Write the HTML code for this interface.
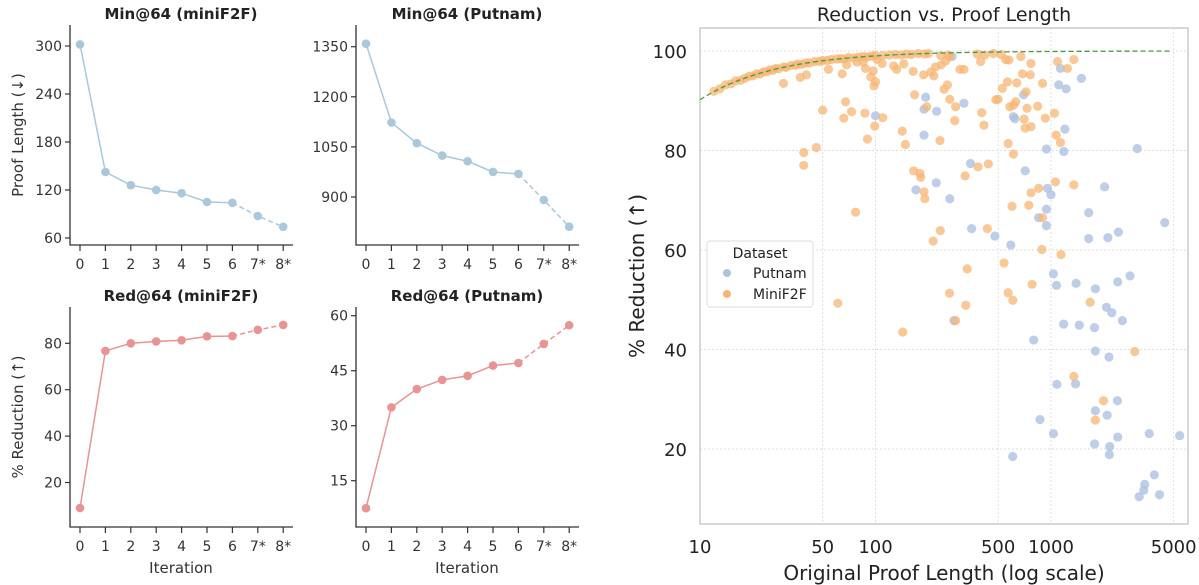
<!DOCTYPE html>
<html><head><meta charset="utf-8">
<style>
html,body{margin:0;padding:0;background:#fff;}
svg{display:block;font-family:"DejaVu Sans","Liberation Sans",sans-serif;}
</style></head>
<body>
<svg id="fig" width="1199" height="585" viewBox="0 0 1199 585" xmlns="http://www.w3.org/2000/svg"></svg>
<script>
// ---------- line panel data ----------
const iterLabels = ["0","1","2","3","4","5","6","7*","8*"];
const minMiniF2F = [302, 142.5, 126, 120, 116, 105, 104, 87.5, 74];
const minPutnam = [1359, 1123, 1061, 1024, 1007, 975, 969, 891, 811];
const redMiniF2F = [9, 76.7, 80, 80.8, 81.3, 83, 83.1, 85.8, 87.9];
const redPutnam = [7.5, 35, 40, 42.5, 43.6, 46.4, 47.1, 52.3, 57.4];
const ticksMinMiniF2F = [60, 120, 180, 240, 300];
const ticksMinPutnam = [900, 1050, 1200, 1350];
const ticksRedMiniF2F = [20, 40, 60, 80];
const ticksRedPutnam = [15, 30, 45, 60];

// ---------- scatter data ----------
const putnamLen = [273,193,189,223,189,319,100,611,623,698,1132,1106,1220,1490,1200,942,1183,3100,348,713,222,170,265,955,1000,2020,942,850,942,1640,353,479,590,1640,2110,2420,4450,
1032,1075,1390,1790,2400,2820,2070,2220,2550,1180,1450,1770,797,280,1790,2140,1080,1380,2390,1790,2090,866,1032,1770,2160,2150,2400,3630,5410,605,3880,3420,3380,3180,4150];
const putnamRed = [98.9,90.7,88.3,87.9,83.1,89.5,87,86.8,86.4,91.2,96.5,93.2,92.4,94.5,84.3,80.3,79.8,80.4,77.4,75.9,73.5,72.1,70.3,72.4,71.1,72.7,68.2,66.5,64.9,67.5,64.3,62.8,61,62.3,62.5,63.6,65.5,
55.2,52.9,53.3,52.2,53.6,54.8,48.5,47.4,45.8,45.1,44.9,44.4,41.9,45.8,39.7,38.5,33,33.1,29.7,27.7,26.8,25.9,23.1,21,20.5,18.9,22.4,23.1,22.7,18.5,14.8,12.9,11.7,10.4,10.8];
const miniLen = [12,13,14,15,16,17,18,19,20,21,22,23,24,25,26,27,28,30,31,33,35,36,38,40,42,45,48,50,53,56,60,63,66,70,75,80,85,90,95,100,110,120,130,140,150,160,175,190,200,235,260,380,420,470,520,
29.9,37.3,40.4,54,64.6,68.5,78.5,85,87.6,97,94,100,98,102,109,127,132,145,164,188,207,215,220,237,251,265,303,319,257,246,397,552,576,673,769,688,762,565,638,528,895,1090,1240,1350,
67.5,50,73,66,87,110,99,90,39,39,46,142,148,167,196,265,286,283,233,403,415,485,500,583,611,630,720,730,703,713,769,840,928,1046,1070,1132,570,611,
165,179,181,189,191,324,384,440,1060,1350,850,769,747,600,895,434,234,213,888,1140,540,333,77,
264,327,570,606,780,61,143,286,1670,3000,1350,1990,1790];
const miniRed = [91.9,92.4,93.2,93.4,94,94.1,94.5,94.9,95,95.4,95.4,95.8,95.8,96.2,96.1,96.5,96.4,96.8,96.7,97.1,97.1,97.4,97.3,97.6,97.6,97.9,97.9,98.1,98.1,98.3,98.4,98.5,98.4,98.7,98.6,98.8,98.9,98.8,99,99.1,99.1,99.2,99.3,99.2,99.4,99.3,99.5,99.4,99.5,99.1,99.2,99.4,99.2,99.5,99.3,
93.5,94.7,95.2,96.3,95.4,97.2,97.8,97.8,96.5,96,94.8,93.8,93,98.3,97.5,97,96.3,97.4,95.9,95.2,95.8,95,96.8,97.2,98,98.9,96.3,96.3,93.2,92.3,97.9,98.3,98.2,98.9,97.5,95.4,95.2,93.8,93.6,92.5,93.5,97.9,96.5,98.3,
89.8,88.1,87.8,86.5,87.5,86.6,84.9,82.3,79.6,77,80.6,83.9,81.2,91.2,88.8,90.3,88.8,86,82,87.6,85.1,90.2,90.3,88.8,89.1,89.8,91.8,88.5,86.3,84.5,84.8,88.9,86.5,87.5,83.1,81.6,81.4,79.3,
75.9,75.4,74.6,71.7,70.3,74.9,76.7,77.3,73.7,73.1,72.4,71.5,69,68.8,66.5,64.3,63.9,61.8,60.1,59.1,57.4,56.2,67.6,
51.3,48.9,51.4,49.9,53.1,49.3,43.5,45.8,49.5,39.6,34.6,29.7,25.8];
const scatterXTicks = [10, 50, 100, 500, 1000, 5000];
const scatterYTicks = [20, 40, 60, 80, 100];
const fitCoef = 98;

const NS = "http://www.w3.org/2000/svg";
const svg = document.getElementById('fig');
function mk(tag, attrs, parent, text){
  const e = document.createElementNS(NS, tag);
  for (const k in attrs) e.setAttribute(k, attrs[k]);
  if (text !== undefined) e.textContent = text;
  (parent || svg).appendChild(e);
  return e;
}

// ---------- line panels ----------
function linePanel(cfg){
  const g = mk('g', {});
  
  
  const L = cfg.left, T = 25 + cfg.top, B = 245 + cfg.top, R = cfg.left + 223;
  const x0 = cfg.left + 10, dx = 25.4;
  const xs = i => x0 + i * dx;
  const ys = v => cfg.yPix0 + (cfg.yVal0 - v) * cfg.k;
  // title
  const t = mk('text', {x: cfg.left + 111, y: cfg.top + 19, 'text-anchor': 'middle', 'font-size': 15, 'font-weight': 'bold', fill: '#222'}, g, cfg.title);
  
  
  // spines
  const sp = mk('path', {d: `M${L},${T} V${B} H${R}`, stroke: '#333', 'stroke-width': 1.3, fill: 'none'}, g);
  
  
  // y ticks
  cfg.yticks.forEach(v => {
    const y = ys(v);
    mk('line', {x1: L - 5, x2: L, y1: y, y2: y, stroke: '#333', 'stroke-width': 1.2}, g);
    const tl = mk('text', {x: L - 8, y: y + 5, 'text-anchor': 'end', 'font-size': 14, fill: '#333'}, g, String(v));
    
    
  });
  // x ticks
  iterLabels.forEach((lab, i) => {
    mk('line', {x1: xs(i), x2: xs(i), y1: B, y2: B + 6, stroke: '#333', 'stroke-width': 1.2}, g);
    const tl = mk('text', {x: xs(i), y: B + 24, 'text-anchor': 'middle', 'font-size': 14, fill: '#333'}, g, lab);
    
    
  });
  if (cfg.xlabel){
    const xl = mk('text', {x: cfg.left + 111, y: B + 46, 'text-anchor': 'middle', 'font-size': 15, fill: '#333'}, g, 'Iteration');
    
    
  }
  if (cfg.ylabel){
    const cy = (T + B) / 2;
    const yl = mk('text', {x: 23, y: cy, 'text-anchor': 'middle', 'font-size': 15, fill: '#333', transform: `rotate(-90 23 ${cy})`}, g, cfg.ylabel);
    
    
  }
  const d = cfg.data;
  let solid = '', dash = '';
  d.forEach((v, i) => { if (i <= 6) solid += (i ? 'L' : 'M') + xs(i) + ',' + ys(v); if (i >= 6) dash += (i === 6 ? 'M' : 'L') + xs(i) + ',' + ys(v); });
  const ls = mk('path', {d: solid, stroke: cfg.color, 'stroke-width': 1.5, fill: 'none'}, g);
  
  
  const ld = mk('path', {d: dash, stroke: cfg.color, 'stroke-width': 1.5, fill: 'none', 'stroke-dasharray': '5,3'}, g);
  
  
  d.forEach((v, i) => {
    const c = mk('circle', {cx: xs(i), cy: ys(v), r: 4.3, fill: cfg.color}, g);
    
    
  });
}
linePanel({name:'min-minif2f-panel', title:'Min@64 (miniF2F)', left:70, top:0, data:minMiniF2F, yticks:ticksMinMiniF2F, yVal0:300, yPix0:46, k:0.8, color:'#a9c8dc', ylabel:'Proof Length (↓)'});
linePanel({name:'min-putnam-panel', title:'Min@64 (Putnam)', left:356, top:0, data:minPutnam, yticks:ticksMinPutnam, yVal0:1350, yPix0:46.7, k:0.334, color:'#a9c8dc'});
linePanel({name:'red-minif2f-panel', title:'Red@64 (miniF2F)', left:70, top:282, data:redMiniF2F, yticks:ticksRedMiniF2F, yVal0:80, yPix0:343.3, k:2.32, color:'#e89493', ylabel:'% Reduction (↑)', xlabel:true});
linePanel({name:'red-putnam-panel', title:'Red@64 (Putnam)', left:356, top:282, data:redPutnam, yticks:ticksRedPutnam, yVal0:60, yPix0:315.7, k:3.667, color:'#e89493', xlabel:true});

// ---------- scatter ----------
const SL = 700, SR = 1188, ST = 28, SB = 524;
const sx = v => 700 + 175.5 * (Math.log10(v) - 1);
const sy = v => 51 + (100 - v) * 4.975;
const sg = mk('g', {});


const st = mk('text', {x: 944, y: 21, 'text-anchor': 'middle', 'font-size': 19, fill: '#222'}, sg, 'Reduction vs. Proof Length');


scatterYTicks.forEach(v => {
  const gl = mk('line', {x1: SL, x2: SR, y1: sy(v), y2: sy(v), stroke: '#ddd', 'stroke-width': 0.9, 'stroke-dasharray': '2,2'}, sg);
  
  
  const tl = mk('text', {x: 687, y: sy(v) + 7, 'text-anchor': 'end', 'font-size': 18, fill: '#222'}, sg, String(v));
  
  
});
scatterXTicks.forEach(v => {
  const gl = mk('line', {x1: sx(v), x2: sx(v), y1: ST, y2: SB, stroke: '#ddd', 'stroke-width': 0.9, 'stroke-dasharray': '2,2'}, sg);
  
  
  const tl = mk('text', {x: sx(v), y: 553, 'text-anchor': 'middle', 'font-size': 18, fill: '#222'}, sg, String(v));
  
  
});
const fr = mk('rect', {x: SL, y: ST, width: SR - SL, height: SB - ST, fill: 'none', stroke: '#ccc', 'stroke-width': 1.5}, sg);


const xt = mk('text', {x: 944, y: 580, 'text-anchor': 'middle', 'font-size': 20, fill: '#222'}, sg, 'Original Proof Length (log scale)');


const yt = mk('text', {x: 644, y: 276, 'text-anchor': 'middle', 'font-size': 20, fill: '#222', transform: 'rotate(-90 644 276)'}, sg, '% Reduction (↑)');



const clip = mk('clipPath', {id: 'sclip'}, sg);
mk('rect', {x: SL, y: ST, width: SR - SL, height: SB - ST}, clip);
const pts = mk('g', {'clip-path': 'url(#sclip)'}, sg);
putnamLen.forEach((L, i) => {
  const c = mk('circle', {cx: sx(L), cy: sy(putnamRed[i]), r: 4.6, fill: '#aec2e2', 'fill-opacity': 0.8}, pts);
  
  
});
miniLen.forEach((L, i) => {
  const c = mk('circle', {cx: sx(L), cy: sy(miniRed[i]), r: 4.6, fill: '#f7b574', 'fill-opacity': 0.75}, pts);
  
  
});
let fd = '';
for (let px = SL; px <= 1173; px += 3) {
  const L = Math.pow(10, (px - 700) / 175.5 + 1);
  fd += (px === SL ? 'M' : 'L') + px + ',' + sy(100 - fitCoef / L);
}
const fit = mk('path', {d: fd, stroke: '#4a9a3c', 'stroke-width': 1.3, fill: 'none', 'stroke-dasharray': '5,3'}, pts);



// legend
const lg = mk('g', {}, sg);


mk('rect', {x: 707, y: 241, width: 106, height: 66, rx: 3, fill: '#fff', 'fill-opacity': 0.9, stroke: '#ddd'}, lg);
mk('text', {x: 760, y: 258, 'text-anchor': 'middle', 'font-size': 14, fill: '#222'}, lg, 'Dataset');
const le1 = mk('g', {}, lg);


mk('circle', {cx: 727, cy: 273, r: 4, fill: '#aec2e2'}, le1);
mk('text', {x: 753, y: 278, 'font-size': 14, fill: '#222'}, le1, 'Putnam');
const le2 = mk('g', {}, lg);


mk('circle', {cx: 727, cy: 294, r: 4, fill: '#f7b574'}, le2);
mk('text', {x: 753, y: 299, 'font-size': 14, fill: '#222'}, le2, 'MiniF2F');
</script>
</body></html>
